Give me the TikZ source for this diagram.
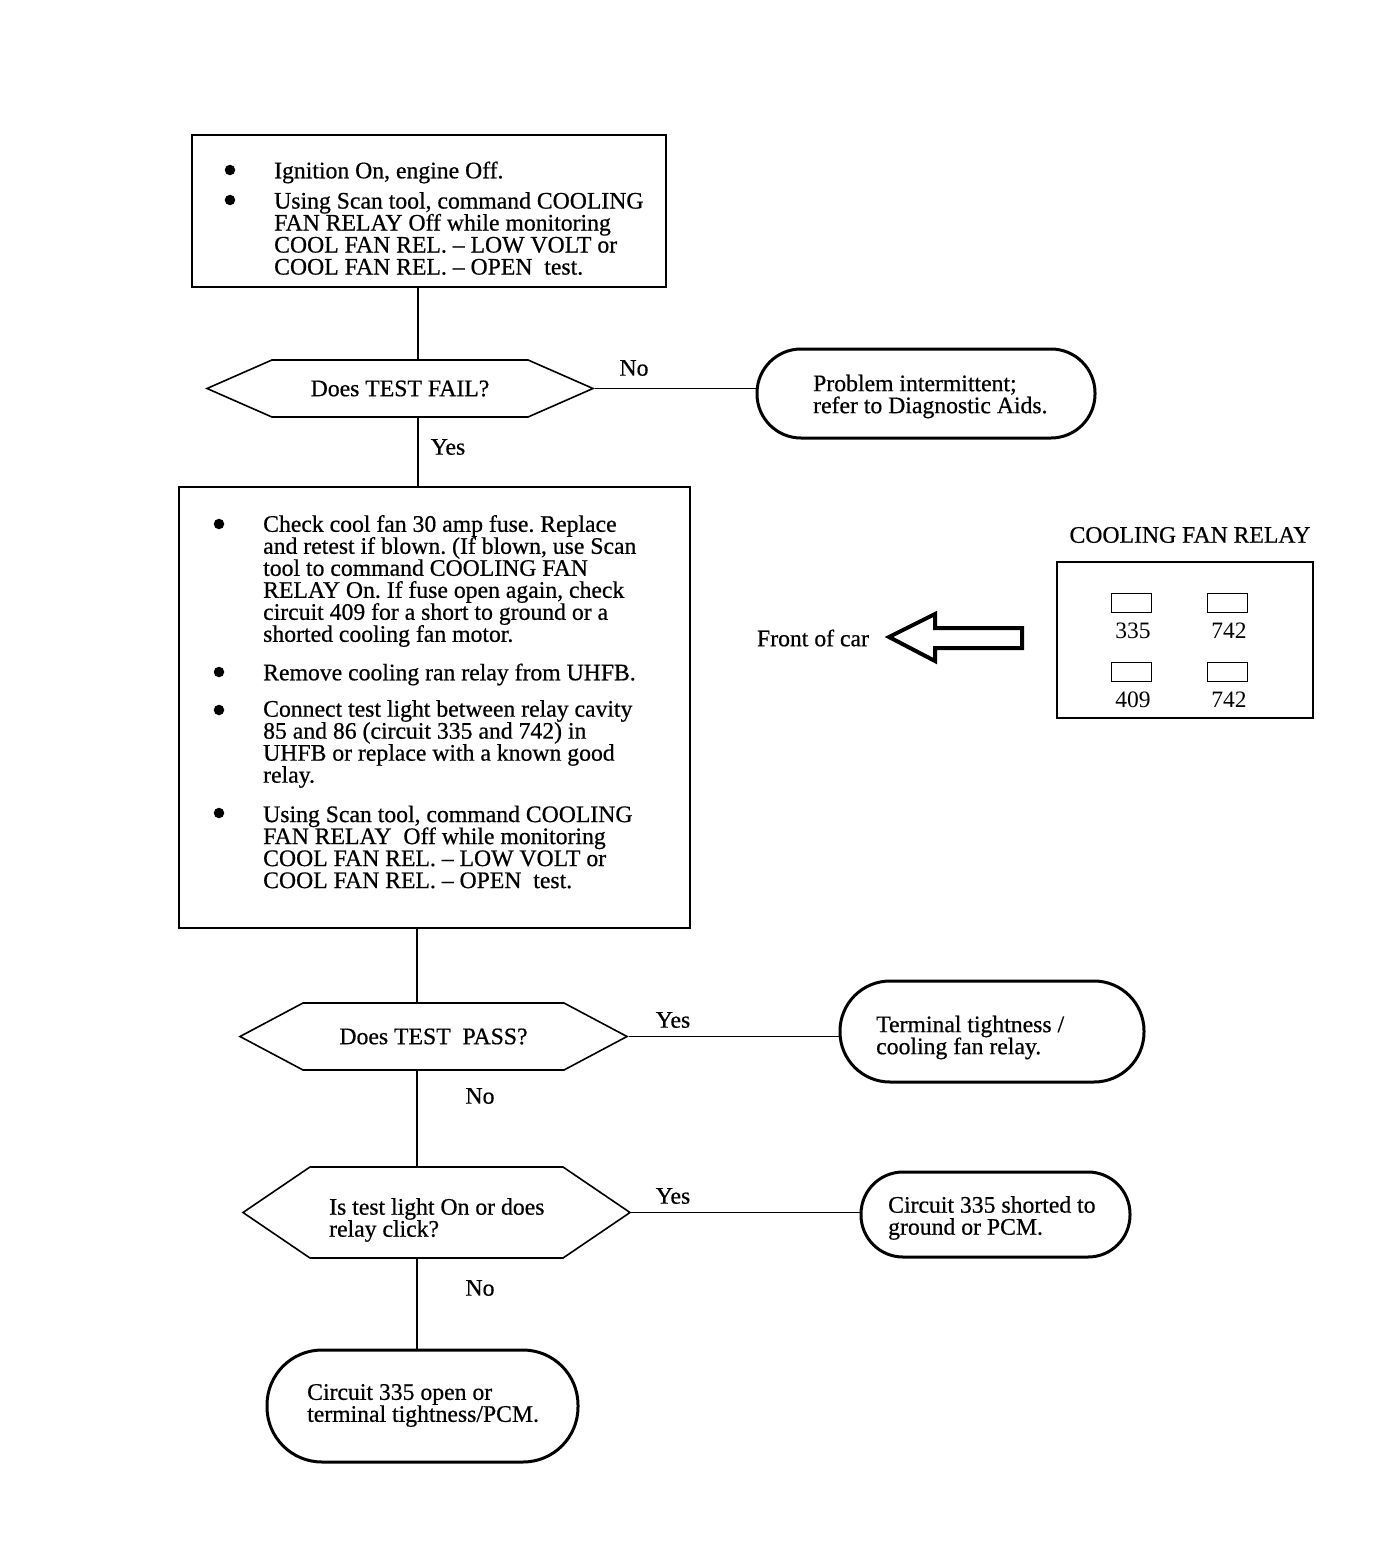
\documentclass[tikz,border=0pt]{standalone}
\usepackage{fontspec}
\setmainfont{Liberation Serif}
\newfontfamily\heavyfont{Liberation Serif}[FakeBold=0.6]
\usetikzlibrary{shapes.symbols}
\begin{document}
\begin{tikzpicture}[x=1pt,y=-1pt,
  every node/.style={font=\heavyfont\fontsize{23.7}{22}\selectfont\frenchspacing, inner sep=0pt},
  txt/.style={align=left, anchor=west},
  plain/.style={font=\fontsize{23.5}{22}\selectfont},
  procbox/.style={draw, line width=1.6pt},
  dot/.style={circle, fill, minimum size=10.5pt, inner sep=0pt},
  decision/.style={signal, signal to=west and east, draw, line width=1.6pt, align=left},
  stadium/.style={draw, line width=3pt},
  conn/.style={line width=1.8pt},
  pin/.style={draw, line width=1pt, minimum width=40pt, minimum height=19pt},
]
\fill[white] (0,0) rectangle (1392,1562);
\useasboundingbox (0,0) rectangle (1392,1562);

% box 1
\node[procbox, minimum width=474pt, minimum height=152pt] (box1) at (429,211) {};
\node[dot] (b11) at (230,170) {};
\node[txt] (t11) at (274,172.5) {Ignition On, engine Off.};
\node[dot] (b12) at (230,200) {};
\node[txt] (t12) at (274,233.5) {Using Scan tool, command COOLING\\FAN RELAY Off while monitoring\\COOL FAN REL. – LOW VOLT or\\COOL FAN REL. – OPEN\ \ test.};

% decision 1
\node[decision, minimum width=386pt, minimum height=57pt, signal pointer angle=47.4] (d1) at (400,388.5) {Does TEST FAIL?};
\node[stadium, minimum width=338pt, minimum height=89pt, rounded corners=44pt] (rb1) at (926,393.5) {};
\node[txt] (rt1) at (813,396.5) {Problem intermittent;\\refer to Diagnostic Aids.};
\node (no1) at (634,368) {No};
\node (yes1) at (448,447) {Yes};

% box 2
\node[procbox, minimum width=511pt, minimum height=441pt] (box2) at (434.5,707.5) {};
\node[dot] (b21) at (219,524) {};
\node[txt] (t21) at (263,581) {Check cool fan 30 amp fuse. Replace\\and retest if blown. (If blown, use Scan\\tool to command COOLING FAN\\RELAY On. If fuse open again, check\\circuit 409 for a short to ground or a\\shorted cooling fan motor.};
\node[dot] (b22) at (219,672) {};
\node[txt] (t22) at (263,674.5) {Remove cooling ran relay from UHFB.};
\node[dot] (b23) at (219,710) {};
\node[txt] (t23) at (263,744) {Connect test light between relay cavity\\85 and 86 (circuit 335 and 742) in\\UHFB or replace with a known good\\relay.};
\node[dot] (b24) at (219,813) {};
\node[txt] (t24) at (263,847) {Using Scan tool, command COOLING\\FAN RELAY\ \ Off while monitoring\\COOL FAN REL. – LOW VOLT or\\COOL FAN REL. – OPEN\ \ test.};

% decision 2
\node[decision, minimum width=387pt, minimum height=67pt, signal pointer angle=56] (d2) at (433.5,1036.5) {Does TEST\ \ PASS?};
\node[stadium, minimum width=304pt, minimum height=101pt, rounded corners=50pt] (rb2) at (992,1031.5) {};
\node[txt] (rt2) at (876,1037.5) {Terminal tightness /\\cooling fan relay.};
\node (yes2) at (673,1020) {Yes};
\node (no2) at (480,1096) {No};

% decision 3
\node[decision, minimum width=387pt, minimum height=91pt, signal pointer angle=68.4] (d3) at (436.5,1212.5) {};
\node[txt] (dt3) at (329,1220) {Is test light On or does\\relay click?};
\node[stadium, minimum width=269pt, minimum height=85pt, rounded corners=42pt] (rb3) at (995.5,1214.5) {};
\node[txt] (rt3) at (888,1218) {Circuit 335 shorted to\\ground or PCM.};
\node (yes3) at (673,1196) {Yes};
\node (no3) at (480,1288) {No};

% terminal 4
\node[stadium, minimum width=311pt, minimum height=112pt, rounded corners=55pt] (rb4) at (422.5,1406) {};
\node[txt] (rt4) at (307,1405.5) {Circuit 335 open or\\terminal tightness/PCM.};

% connectors
\coordinate (s1) at (418,0);
\coordinate (s2) at (417,0);
\draw[conn] (box1.south -| s1) -- (d1.north -| s1);
\draw[conn] (d1.south -| s1) -- (box2.north -| s1);
\draw[conn] (d1.east) -- (d1.east -| rb1.west);
\draw[conn] (box2.south -| s2) -- (d2.north -| s2);
\draw[conn] (d2.east) -- (d2.east -| rb2.west);
\draw[conn] (d2.south -| s2) -- (d3.north -| s2);
\draw[conn] (d3.east) -- (d3.east -| rb3.west);
\draw[conn] (d3.south -| s2) -- (rb4.north -| s2);

% relay diagram
\node (relt) at (1190,535) {COOLING FAN RELAY};
\node[draw, line width=1.3pt, minimum width=256pt, minimum height=156pt] (relay) at (1185,640) {};
\node[pin] (c1) at (1131,602.5) {};
\node[pin] (c2) at (1227,602.5) {};
\node[pin] (c3) at (1131,672) {};
\node[pin] (c4) at (1227,672) {};
\node[plain] (l1) at (1133,631) {335};
\node[plain] (l2) at (1229,631) {742};
\node[plain] (l3) at (1133,700) {409};
\node[plain] (l4) at (1229,700) {742};
\node (front) at (813,638) {Front of car};
\draw[line width=4pt, line join=miter] (889,637) -- (935,614) -- (935,628) -- (1022,628) -- (1022,648) -- (935,648) -- (935,661) -- cycle;
\end{tikzpicture}
\end{document}
